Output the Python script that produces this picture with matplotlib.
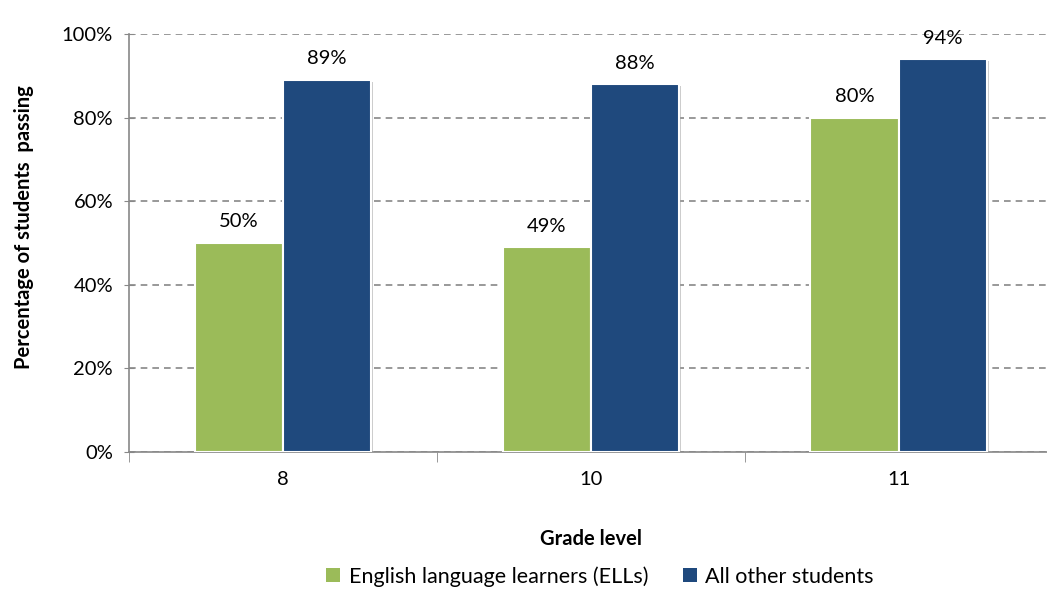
import matplotlib.pyplot as plt
import matplotlib.patheffects as pe
from matplotlib.patches import Patch
import numpy as np

plt.rcParams['font.family'] = ['Lato', 'DejaVu Sans']

grades = ['8', '10', '11']
ells = [50, 49, 80]
others = [89, 88, 94]
series_names = ['English language learners (ELLs)', 'All other students']
colors = ['#9BBB59', '#1F497D']

fig = plt.figure(figsize=(10.47, 5.91), dpi=100)
ax = fig.add_axes([0.1232, 0.2352, 0.882, 0.7073])

x = np.arange(len(grades))
w = 0.286
shadow = [pe.SimplePatchShadow(offset=(1.5, -1.5), shadow_rgbFace='#999999', alpha=0.5), pe.Normal()]
for i, vals in enumerate([ells, others]):
    bars = ax.bar(x + (i - 0.5) * w, vals, w, color=colors[i], edgecolor='white',
                  linewidth=1.5, zorder=3)
    for b in bars:
        b.set_path_effects(shadow)
    for xi, v in zip(x + (i - 0.5) * w, vals):
        ax.annotate(f'{v}%', (xi, v), xytext=(0, 9), textcoords='offset points',
                    ha='center', va='bottom', fontsize=14.5, color='black')

ax.set_xlim(-0.5, 2.5)
ax.set_ylim(0, 100)
ax.set_yticks(range(0, 101, 20))
ax.set_yticklabels([f'{t}%' for t in range(0, 101, 20)], fontsize=14.5)
ax.set_xticks(x)
ax.set_xticklabels(grades, fontsize=14.5)
ax.set_xticks([-0.5, 0.5, 1.5, 2.5], minor=True)
ax.tick_params(axis='x', which='major', length=0, pad=14)
ax.tick_params(axis='x', which='minor', length=7, color='#888888')
ax.tick_params(axis='y', length=7, direction='inout', color='#888888', pad=8)

ax.yaxis.grid(True, linestyle=(0, (4, 3)), color='#888888', linewidth=1.2)
ax.set_axisbelow(True)
for s in ['top', 'right']:
    ax.spines[s].set_visible(False)
for s in ['left', 'bottom']:
    ax.spines[s].set_color('#888888')
    ax.spines[s].set_linewidth(1.2)

ax.set_ylabel('Percentage of students  passing', fontsize=14.5, fontweight='bold')
ax.yaxis.set_label_coords(-0.103, 0.538)
ax.set_xlabel('Grade level', fontsize=14.5, fontweight='bold', labelpad=29)

handles = [Patch(facecolor=c, edgecolor='none') for c in colors]
fig.legend(handles, series_names, loc='center', bbox_to_anchor=(0.573, 0.025), ncol=2,
           frameon=False, fontsize=15.5, handlelength=0.65, handleheight=0.65,
           handletextpad=0.4, columnspacing=1.6)

fig.savefig('out.png', dpi=100)
